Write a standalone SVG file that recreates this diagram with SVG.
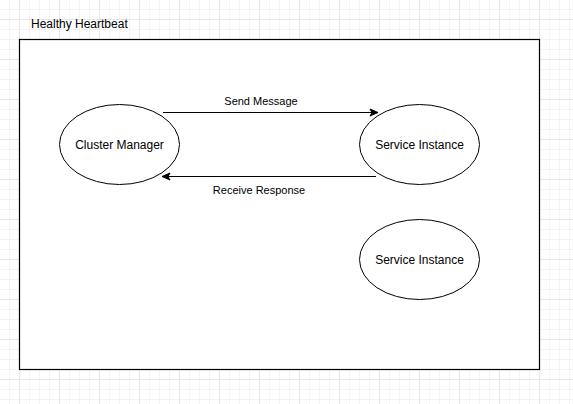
<svg xmlns="http://www.w3.org/2000/svg" width="573" height="404" viewBox="0 0 573 404">
<defs>
<pattern id="minor" x="-1" y="-1" width="10" height="10" patternUnits="userSpaceOnUse">
<path d="M0.5 0V10M0 0.5H10" stroke="#f4f4f4" stroke-width="1" fill="none"/>
</pattern>
<pattern id="major" x="-1" y="-1" width="40" height="40" patternUnits="userSpaceOnUse">
<path d="M20.5 0V40M0 20.5H40" stroke="#e6e6e6" stroke-width="1" fill="none"/>
</pattern>
<marker id="arr" markerWidth="10" markerHeight="10" refX="9" refY="5" orient="auto" markerUnits="userSpaceOnUse">
<path d="M1 1.5L9 5L1 8.5L3 5Z" fill="#000" stroke="#000" stroke-width="1"/>
</marker>
</defs>
<style>
.lbl{font-family:"Liberation Sans",Arial,sans-serif;fill:#000;text-anchor:middle}
.node ellipse{fill:#fff;stroke:#000;stroke-width:1}
.edge{stroke:#000;stroke-width:1;fill:none;marker-end:url(#arr)}
</style>
<rect width="573" height="404" fill="#fff"/>
<rect width="573" height="404" fill="url(#minor)"/>
<rect width="573" height="404" fill="url(#major)"/>
<g id="container">
<rect x="19.5" y="39.5" width="520" height="330" fill="#fff" stroke="#000" stroke-width="1.2"/>
<text x="31" y="28" class="lbl" style="text-anchor:start;font-size:12px">Healthy Heartbeat</text>
</g>
<g id="connectors">
<path class="edge" d="M163 112.5H378"/>
<text x="261" y="105" class="lbl" font-size="11">Send Message</text>
<path class="edge" d="M376 176.5H162"/>
<text x="259" y="194" class="lbl" font-size="11">Receive Response</text>
</g>
<g id="cluster-manager" class="node">
<ellipse cx="119.5" cy="144.5" rx="60" ry="40"/>
<text x="119.5" y="149" class="lbl" font-size="12">Cluster Manager</text>
</g>
<g id="service-instance-1" class="node">
<ellipse cx="419.5" cy="144.5" rx="60" ry="40"/>
<text x="419.5" y="149" class="lbl" font-size="12">Service Instance</text>
</g>
<g id="service-instance-2" class="node">
<ellipse cx="419.5" cy="259.5" rx="60" ry="40"/>
<text x="419.5" y="264" class="lbl" font-size="12">Service Instance</text>
</g>
</svg>
